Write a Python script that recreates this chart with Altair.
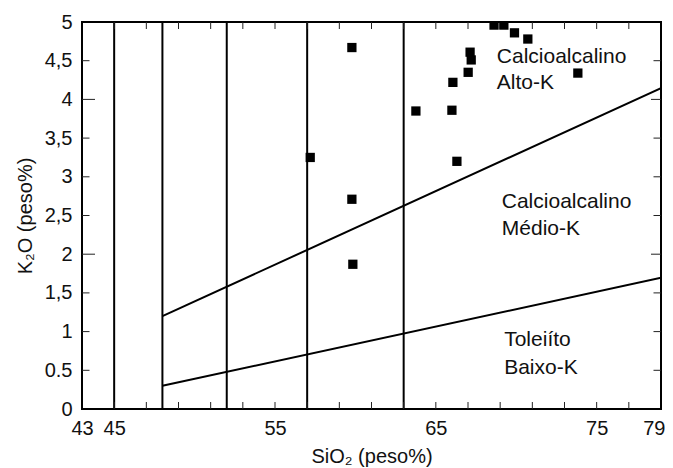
import altair as alt
import pandas as pd

# ---- data ----
sio2 = [59.78, 68.62, 69.23, 69.89, 70.72, 67.13, 67.20, 67.01, 66.06, 73.83,
        63.76, 66.00, 57.19, 66.31, 59.78, 59.84]
k2o = [4.67, 4.96, 4.96, 4.86, 4.78, 4.61, 4.51, 4.35, 4.22, 4.34,
       3.85, 3.86, 3.25, 3.20, 2.71, 1.87]

vline_sio2 = [45, 48, 52, 57, 63]
boundary_sio2 = [48, 79]
upper_k2o = [1.2, 4.145]
lower_k2o = [0.3, 1.695]

x_tick_vals = [45, 47, 49, 51, 53, 55, 57, 59, 61, 63, 65, 67, 69, 71, 73, 75, 77]
x_label_vals = [43, 45, 55, 65, 75, 79]
y_tick_vals = [0, 0.5, 1, 1.5, 2, 2.5, 3, 3.5, 4, 4.5, 5]
y_tick_labels = ["0", "0.5", "1", "1,5", "2", "2,5", "3", "3,5", "4", "4,5", "5"]
y_long_ticks = [2, 4]

label_text = ["Calcioalcalino", "Alto-K", "Calcioalcalino", "Médio-K", "Toleiíto", "Baixo-K"]
label_sio2 = [68.79, 68.79, 69.10, 69.10, 69.25, 69.25]
label_k2o = [4.47, 4.13, 2.60, 2.25, 0.81, 0.456]

X_MIN, X_MAX = 43, 79
Y_MIN, Y_MAX = 0, 5
W, H = 579, 387
FONT = "Liberation Sans"

ux = (X_MAX - X_MIN) / W   # data units per pixel (x)
uy = (Y_MAX - Y_MIN) / H   # data units per pixel (y)

xscale = alt.Scale(domain=[X_MIN, X_MAX], nice=False, zero=False)
yscale = alt.Scale(domain=[Y_MIN, Y_MAX], nice=False, zero=False)

label_expr = " : ".join(
    f"datum.value == {v} ? '{l}'" for v, l in zip(y_tick_vals, y_tick_labels)
) + " : ''"

xaxis = alt.Axis(values=x_label_vals, ticks=False, tickSize=0, domain=False, grid=False,
                 labelFontSize=20, labelPadding=9, labelFont=FONT, labelColor="#111",
                 labelFlush=False, labelOverlap=False,
                 labelAlign={"condition": {"test": f"datum.value == {X_MAX}", "value": "right"},
                             "value": "center"},
                 labelOffset={"condition": {"test": f"datum.value == {X_MAX}", "value": 4},
                              "value": 0},
                 title="SiO₂ (peso%)", titleFont=FONT, titleFontSize=20,
                 titleFontWeight="normal", titleColor="#111", titlePadding=8)
yaxis = alt.Axis(values=y_tick_vals, labelExpr=label_expr, ticks=False, tickSize=0,
                 domain=False, grid=False, labelFontSize=20, labelPadding=10,
                 labelFont=FONT, labelColor="#111", labelFlush=False, labelOverlap=False,
                 title="K₂O (peso%)", titleFont=FONT, titleFontSize=20,
                 titleFontWeight="normal", titleColor="#111", titlePadding=9)


def X(field="x"):
    return alt.X(f"{field}:Q", scale=xscale, axis=xaxis, title="SiO₂ (peso%)")


def Y(field="y"):
    return alt.Y(f"{field}:Q", scale=yscale, axis=yaxis, title="K₂O (peso%)")


pts = pd.DataFrame({"x": sio2, "y": k2o})
points = alt.Chart(pts).mark_square(size=86, color="black", filled=True, opacity=1,
                                    clip=True).encode(x=X(), y=Y())

vl = pd.DataFrame({"x": vline_sio2, "y": [Y_MIN] * len(vline_sio2),
                   "y2": [Y_MAX] * len(vline_sio2)})
vlines = alt.Chart(vl).mark_rule(color="black", strokeWidth=2).encode(
    x=X(), y=Y(), y2="y2:Q")

bd = pd.DataFrame({
    "x": boundary_sio2 + boundary_sio2,
    "y": upper_k2o + lower_k2o,
    "g": ["upper"] * 2 + ["lower"] * 2,
})
blines = alt.Chart(bd).mark_line(color="black", strokeWidth=2, clip=True).encode(
    x=X(), y=Y(), detail="g:N")

tx = pd.DataFrame({"x": label_sio2, "y": label_k2o, "t": label_text})
texts = alt.Chart(tx).mark_text(align="left", baseline="alphabetic", font=FONT,
                                fontSize=21, color="#111").encode(
    x=X(), y=Y(), text="t:N")

# inward tick marks on all four sides (drawn through the scales)
tk_rows = []
for v in x_tick_vals:
    tk_rows.append({"x": v, "x2": v, "y": Y_MIN, "y2": Y_MIN + 7 * uy})
    tk_rows.append({"x": v, "x2": v, "y": Y_MAX, "y2": Y_MAX - 7 * uy})
for v in y_tick_vals[1:-1]:
    left_len = 13 if v in y_long_ticks else 7.5
    right_len = 10 if v in y_long_ticks else 7.5
    tk_rows.append({"x": X_MIN, "x2": X_MIN + left_len * ux, "y": v, "y2": v})
    tk_rows.append({"x": X_MAX, "x2": X_MAX - right_len * ux, "y": v, "y2": v})
tk = pd.DataFrame(tk_rows)
ticks = alt.Chart(tk).mark_rule(color="#222", strokeWidth=1).encode(
    x=X(), x2="x2:Q", y=Y(), y2="y2:Q")

chart = alt.layer(vlines, blines, ticks, points, texts).properties(
    width=W, height=H,
    background="white",
    autosize=alt.AutoSizeParams(type="none"),
    padding={"left": 74, "top": 14, "right": 4, "bottom": 58},
).configure_view(stroke="black", strokeWidth=2)

chart.save("out.html", embed_options={"renderer": "svg", "actions": False})
